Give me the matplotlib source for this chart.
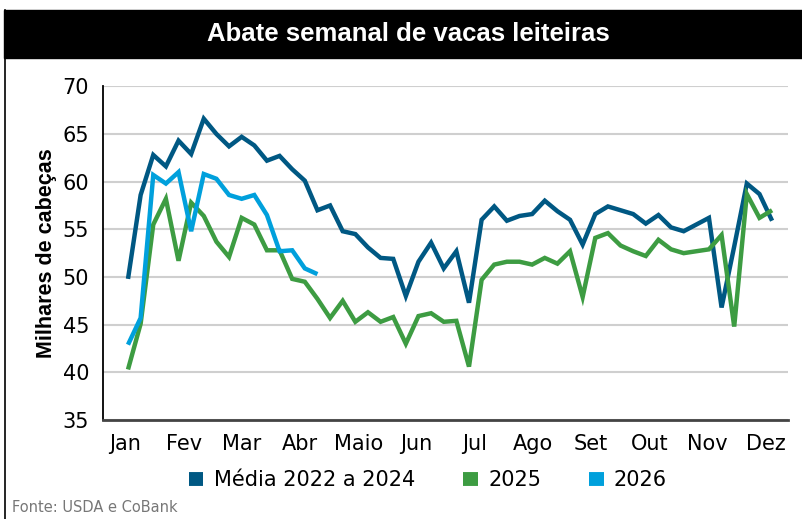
import numpy as np
import matplotlib
matplotlib.use("Agg")
import matplotlib.pyplot as plt
from matplotlib.lines import Line2D
from matplotlib.patches import Rectangle

# weekly values (thousand head)
media_22_24 = [49.8, 58.6, 62.8, 61.6, 64.3, 62.9, 66.6, 65.0, 63.7, 64.7, 63.8, 62.2, 62.7,
               61.3, 60.1, 57.0, 57.5, 54.8, 54.5, 53.1, 52.0, 51.9, 48.0, 51.6, 53.6, 50.9,
               52.7, 47.3, 56.0, 57.4, 55.9, 56.4, 56.6, 58.0, 56.9, 56.0, 53.4, 56.6, 57.4,
               57.0, 56.6, 55.6, 56.5, 55.2, 54.8, 55.5, 56.2, 46.8, 53.2, 59.8, 58.7, 55.9]
ano_2025 = [40.3, 45.1, 55.5, 58.2, 51.7, 57.8, 56.4, 53.7, 52.1, 56.2, 55.5, 52.8, 52.8,
            49.8, 49.5, 47.7, 45.7, 47.5, 45.3, 46.3, 45.3, 45.8, 43.0, 45.9, 46.2, 45.3,
            45.4, 40.6, 49.7, 51.3, 51.6, 51.6, 51.3, 52.0, 51.4, 52.7, 47.9, 54.1, 54.6,
            53.3, 52.7, 52.2, 53.9, 52.9, 52.5, 52.7, 52.9, 54.4, 44.8, 58.7, 56.2, 57.0]
ano_2026 = [42.9, 45.7, 60.7, 59.8, 61.0, 54.8, 60.8, 60.3, 58.6, 58.2, 58.6, 56.5, 52.7,
            52.8, 50.9, 50.3]
meses = ["Jan", "Fev", "Mar", "Abr", "Maio", "Jun", "Jul", "Ago", "Set", "Out", "Nov", "Dez"]
y_ticks = [35, 40, 45, 50, 55, 60, 65, 70]
series = [("Média 2022 a 2024", media_22_24, "#005883"),
          ("2025", ano_2025, "#3d9c42"),
          ("2026", ano_2026, "#00a0dc")]

FONT = "DejaVu Sans"
W, H = 802, 519
fig = plt.figure(figsize=(W / 100, H / 100), dpi=100)

# left frame line + black title bar
fig.add_artist(Line2D([4.5 / W, 4.5 / W], [0, 1 - 10 / H], transform=fig.transFigure,
                      color="black", lw=1.2))
fig.patches.append(Rectangle((4 / W, 1 - 58 / H), (W - 4) / W, 48 / H, transform=fig.transFigure,
                             fc="black", ec="black"))
fig.text(408 / W, 1 - 34 / H, "Abate semanal de vacas leiteiras", color="white", fontsize=18.5,
         fontweight="bold", ha="center", va="center", family="Liberation Sans")

ax = fig.add_axes([103 / W, 1 - 420 / H, 685 / W, 333.7 / H])
for name, vals, col in series:
    ax.plot(np.arange(len(vals)), vals, color=col, lw=3.2, solid_joinstyle="miter",
            solid_capstyle="butt", label=name)

ax.set_xlim(-1.98, 52.26)
ax.set_ylim(35, 70)
ax.set_yticks(y_ticks)
ax.set_yticklabels([str(v) for v in y_ticks], family=FONT, fontsize=15)
ax.set_xticks([-0.2 + 4.61 * i for i in range(len(meses))])
ax.set_xticklabels(meses, family=FONT, fontsize=15)
ax.tick_params(length=0, pad=10)
ax.grid(axis="y", color="#cfcfcf", lw=1.5)
ax.set_axisbelow(True)
for s in ["top", "right"]:
    ax.spines[s].set_visible(False)
ax.spines["left"].set_color("black")
ax.spines["left"].set_linewidth(1.3)
ax.spines["bottom"].set_color("#444444")
ax.spines["bottom"].set_linewidth(2)
ax.set_ylabel("Milhares de cabeças", fontsize=15.5, fontweight="bold", family="Liberation Sans",
              labelpad=4)

leg = fig.legend(loc="center", bbox_to_anchor=(428 / W, 1 - 480 / H), ncol=3, frameon=False,
                 handlelength=0.7, handleheight=0.7, handletextpad=0.5, columnspacing=2.3,
                 prop={"family": FONT, "size": 15})
for h in leg.legend_handles:
    h.set_linewidth(10)

fig.text(12 / W, 1 - 507 / H, "Fonte: USDA e CoBank", color="#777777", fontsize=10.5,
         ha="left", va="center", family=FONT)

fig.savefig("out.png", dpi=100)
